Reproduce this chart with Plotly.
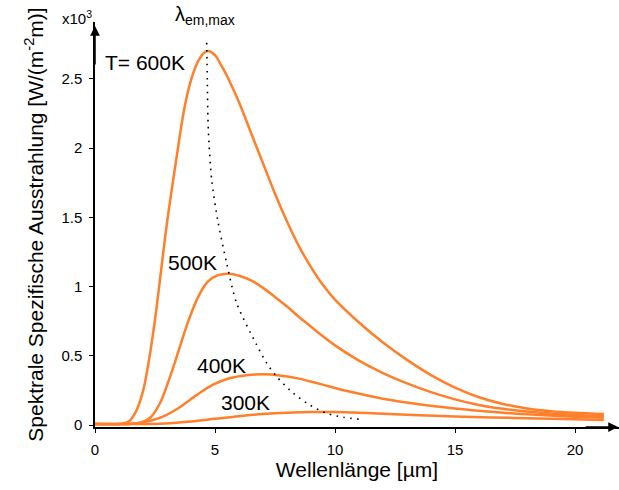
import plotly.graph_objects as go

# wavelength [µm] and spectral exitance [x10^3 W/(m^-2 m)]
x_600 = [0, 1.0, 1.4, 1.7, 2.0, 2.25, 2.5, 2.75, 3.0, 3.25, 3.5, 3.75, 4.0, 4.25, 4.5, 4.7,
         5.0, 5.25, 5.5, 6.0, 6.5, 7.0, 7.5, 8.0, 8.5, 9.0, 9.5, 10, 11, 12, 13, 14, 15, 16,
         17, 18, 19, 20, 21.2]
y_600 = [0.007, 0.008, 0.025, 0.095, 0.245, 0.47, 0.76, 1.11, 1.46, 1.76, 2.05, 2.31, 2.49, 2.61,
         2.68, 2.70, 2.67, 2.60, 2.52, 2.33, 2.11, 1.89, 1.67, 1.47, 1.29, 1.14, 1.01, 0.905,
         0.74, 0.595, 0.47, 0.36, 0.27, 0.20, 0.152, 0.12, 0.10, 0.088, 0.079]

x_500 = [0, 1.5, 1.9, 2.3, 2.7, 3.1, 3.5, 3.9, 4.3, 4.7, 5.1, 5.6, 6.0, 6.5, 7.0, 7.5, 8.0,
         8.5, 9.0, 9.5, 10, 11, 12, 13, 14, 15, 16, 17, 18, 19, 20, 21.2]
y_500 = [0.007, 0.008, 0.016, 0.052, 0.155, 0.335, 0.545, 0.755, 0.925, 1.035, 1.080, 1.092,
         1.078, 1.045, 0.99, 0.925, 0.855, 0.78, 0.71, 0.64, 0.575, 0.465, 0.375, 0.30, 0.237,
         0.185, 0.145, 0.117, 0.097, 0.083, 0.073, 0.067]

x_400 = [0, 1.3, 1.8, 2.2, 2.8, 3.5, 4.2, 4.9, 5.6, 6.3, 7.0, 7.7, 8.5, 9.4, 10.5, 12, 13.5,
         15, 16.5, 18, 19.5, 21.2]
y_400 = [0.007, 0.008, 0.014, 0.026, 0.058, 0.125, 0.212, 0.29, 0.338, 0.36, 0.366, 0.358,
         0.335, 0.295, 0.245, 0.19, 0.15, 0.12, 0.096, 0.077, 0.063, 0.053]

x_300 = [0, 2.3, 3.1, 4.0, 5.0, 6.0, 7.0, 8.0, 9.0, 10.0, 11.0, 12.0, 13.5, 15, 16.5, 18,
         19.5, 21.2]
y_300 = [0.007, 0.008, 0.013, 0.026, 0.045, 0.064, 0.079, 0.089, 0.094, 0.094, 0.089, 0.081,
         0.071, 0.062, 0.055, 0.049, 0.043, 0.036]

# locus of the emission maxima (dotted)
x_wien = [4.654, 4.679, 4.721, 4.863, 5.113, 5.488, 5.904, 6.738, 7.154, 7.571, 8.263, 8.958,
          9.654, 10.346, 11.042]
y_wien = [2.760, 2.491, 2.130, 1.769, 1.480, 1.167, 0.879, 0.578, 0.446, 0.349, 0.229, 0.144,
          0.084, 0.056, 0.041]

curve_labels = ["T= 600K", "500K", "400K", "300K"]
label_x = [2.083, 4.083, 5.25, 6.25]
label_y = [2.614, 1.170, 0.433, 0.159]

ORANGE = "#ff7f2a"
FONT = "Arial, Liberation Sans, sans-serif"

fig = go.Figure()
for xs, ys in [(x_300, y_300), (x_400, y_400), (x_500, y_500), (x_600, y_600)]:
    fig.add_trace(go.Scatter(x=xs, y=ys, mode="lines",
                             line=dict(color=ORANGE, width=2.5, shape="spline", smoothing=1.0),
                             showlegend=False, hoverinfo="skip"))
fig.add_trace(go.Scatter(x=x_wien, y=y_wien, mode="lines",
                         line=dict(color="black", width=1.6, dash="1.6px,5.4px",
                                   shape="spline", smoothing=0.8),
                         showlegend=False, hoverinfo="skip"))

for t, lx, ly in zip(curve_labels, label_x, label_y):
    fig.add_annotation(x=lx, y=ly, text=t, showarrow=False,
                       font=dict(size=21, color="black", family=FONT),
                       xanchor="center", yanchor="middle")

# axis labels at the top
fig.add_annotation(xref="paper", yref="paper", x=-0.034, y=1.012, text="x10<sup>3</sup>",
                   showarrow=False, font=dict(size=15, color="black", family=FONT),
                   xanchor="center", yanchor="middle")
fig.add_annotation(xref="paper", yref="paper", x=0.21, y=1.016, text="λ<sub>em,max</sub>",
                   showarrow=False, font=dict(size=20, color="black", family=FONT),
                   xanchor="center", yanchor="middle")

# axis arrows
fig.add_annotation(xref="paper", yref="paper", x=0, y=0.99, ax=0, ay=40, text="",
                   showarrow=True, arrowhead=2, arrowsize=1.3, arrowwidth=1.5, arrowcolor="black")
fig.add_annotation(xref="paper", yref="paper", x=1.01, y=0, ax=-40, ay=0, text="",
                   showarrow=True, arrowhead=2, arrowsize=1.3, arrowwidth=1.5, arrowcolor="black")

fig.update_xaxes(range=[0, 21.833], dtick=5, tick0=0, showgrid=False, zeroline=False,
                 showline=True, linecolor="black", linewidth=1.5,
                 ticks="outside", ticklen=4, tickcolor="black", tickwidth=1,
                 ticklabelstandoff=4,
                 tickfont=dict(size=15, color="black", family=FONT),
                 title=dict(text="Wellenlänge [µm]", standoff=6,
                            font=dict(size=21, color="black", family=FONT)))
fig.update_yaxes(range=[-0.0144, 2.9097], dtick=0.5, tick0=0, showgrid=False, zeroline=False,
                 showline=True, linecolor="black", linewidth=1.5,
                 ticks="outside", ticklen=4, tickcolor="black", tickwidth=1,
                 ticklabelstandoff=4,
                 tickfont=dict(size=15, color="black", family=FONT),
                 title=dict(text="Spektrale Spezifische Ausstrahlung [W/(m<sup>-2</sup>m)]",
                            standoff=12,
                            font=dict(size=21, color="black", family=FONT)))

fig.update_layout(width=619, height=490, autosize=False,
                  margin=dict(l=95, r=0, t=22, b=63, autoexpand=False),
                  plot_bgcolor="white", paper_bgcolor="white",
                  font=dict(family=FONT, color="black"))

fig.write_html("out.html")
